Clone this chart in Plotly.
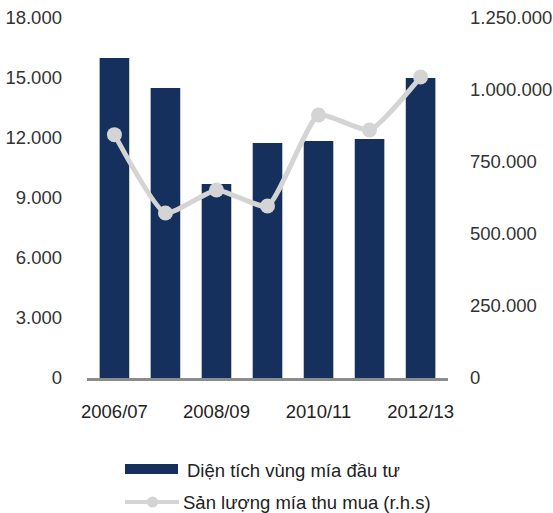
import plotly.graph_objects as go

# Crop years
seasons = ["2006/07", "2007/08", "2008/09", "2009/10", "2010/11", "2011/12", "2012/13"]
# Investment cane area (left axis)
area = [16000, 14500, 9700, 11750, 11850, 11950, 15000]
# Purchased cane output (right axis)
output = [845000, 573000, 653000, 597000, 913000, 861000, 1045000]

shown_ticks = ["2006/07", "2008/09", "2010/11", "2012/13"]
area_name = "Diện tích vùng mía đầu tư"
output_name = "Sản lượng mía thu mua (r.h.s)"

NAVY = "#15305c"
GREY = "#d4d4d4"
FONT = "Liberation Sans, Arial, sans-serif"
FS = 18.5

fig = go.Figure()
fig.add_trace(go.Bar(x=seasons, y=area, name=area_name, marker=dict(color=NAVY, line=dict(width=0)),
                     yaxis="y", showlegend=False))
fig.add_trace(go.Scatter(x=seasons, y=output, name=output_name, yaxis="y2", mode="lines+markers",
                         line=dict(color=GREY, width=5, shape="spline", smoothing=0.5),
                         marker=dict(color=GREY, size=15), showlegend=False))

W, H = 553, 513
L, R, T, B = 87, 105, 18, 135

fig.update_layout(
    width=W, height=H,
    margin=dict(l=L, r=R, t=T, b=B, autoexpand=False),
    paper_bgcolor="white", plot_bgcolor="white",
    separators=",.",
    bargap=0.42,
    font=dict(family=FONT, size=FS, color="#333333"),
    xaxis=dict(type="category", tickmode="array", tickvals=shown_ticks, ticktext=shown_ticks,
               automargin=False, showgrid=False, showline=True, linecolor="#8c8c8c", linewidth=3,
               ticks="", ticklabelstandoff=15, tickfont=dict(size=FS, color="#222222")),
    yaxis=dict(range=[0, 18000], dtick=3000, tickformat=",d", showgrid=False, zeroline=False,
               automargin=False, showline=False, ticks="", ticklabelstandoff=24,
               tickfont=dict(size=FS, color="#333333")),
    yaxis2=dict(range=[0, 1250000], dtick=250000, tickformat=",d", overlaying="y", side="right",
                automargin=False, showgrid=False, zeroline=False, showline=False, ticks="",
                ticklabelstandoff=21, tickfont=dict(size=FS, color="#333333")),
)

# Legend drawn in pixel-aligned paper coordinates
def px(xp):
    return (xp - L) / (W - L - R)

def py(yp):
    return (H - B - yp) / (H - T - B)

fig.add_shape(type="rect", xref="paper", yref="paper", x0=px(125), x1=px(178), y0=py(474), y1=py(464),
              fillcolor=NAVY, line=dict(width=0))
fig.add_shape(type="line", xref="paper", yref="paper", x0=px(125), x1=px(179), y0=py(502), y1=py(502),
              line=dict(color=GREY, width=4))
fig.add_shape(type="circle", xref="paper", yref="paper", x0=px(147), x1=px(158), y0=py(507.5), y1=py(496.5),
              fillcolor=GREY, line=dict(width=0))
fig.add_annotation(xref="paper", yref="paper", x=px(185), y=py(470), text=area_name, showarrow=False,
                   xanchor="left", yanchor="middle", font=dict(size=FS, color="#222222"))
fig.add_annotation(xref="paper", yref="paper", x=px(181), y=py(502), text=output_name, showarrow=False,
                   xanchor="left", yanchor="middle", font=dict(size=FS, color="#222222"))

fig.write_html("out.html")
